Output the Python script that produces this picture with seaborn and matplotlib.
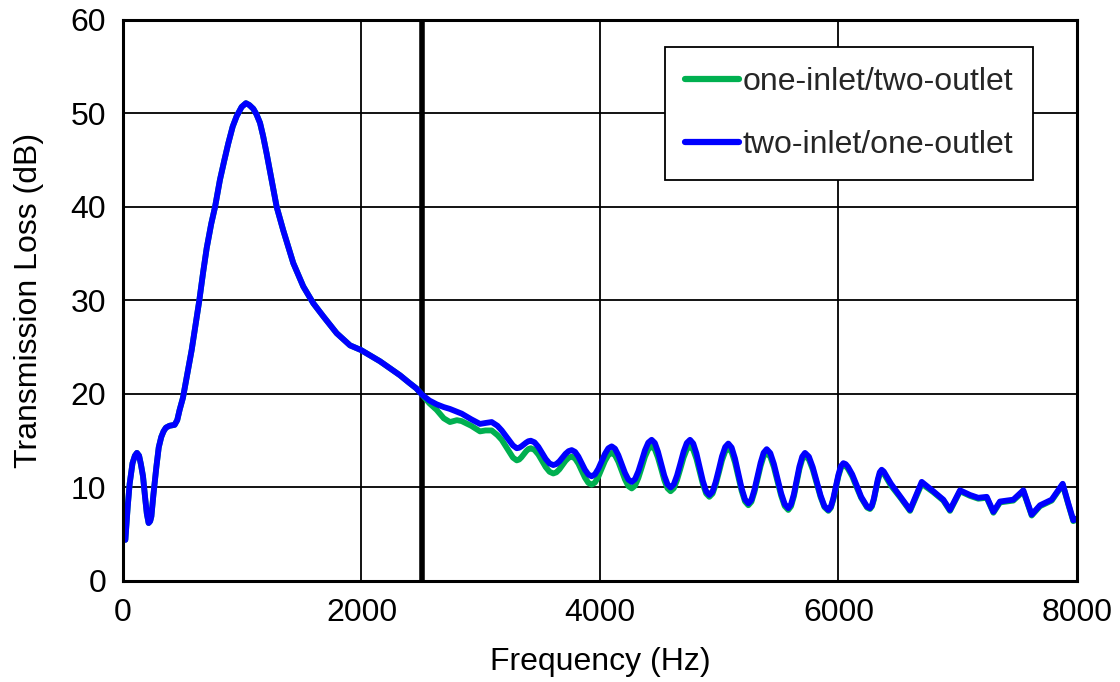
import matplotlib
matplotlib.use("Agg")
import matplotlib.pyplot as plt
import seaborn as sns
import pandas as pd

# Frequency grid (Hz) shared by both configurations
freq_hz = [
    20, 40, 56, 80, 100, 117, 135, 150, 168, 185, 200, 215, 228, 238, 255, 270, 280, 300,
    321, 340, 360, 390, 433, 455, 475, 503,
    576, 640, 672, 702, 740, 772, 813, 850, 883, 920, 953, 995, 1031, 1060, 1093, 1120, 1149, 1175,
    1205, 1245, 1289, 1344, 1428, 1512, 1596, 1680, 1792, 1904, 1996, 2155, 2323, 2400,
    2460, 2510,
    2570, 2630, 2690, 2742, 2800, 2840, 2920, 2994, 3040, 3092, 3140, 3176, 3240, 3270, 3302,
    3322, 3341, 3361, 3381, 3400, 3420,
    3451, 3483, 3514, 3545, 3577, 3608,
    3634, 3660, 3686, 3711, 3737, 3763,
    3791, 3819, 3847, 3874, 3902, 3930,
    3958, 3986, 4014, 4042, 4070, 4098,
    4126, 4154, 4182, 4210, 4238, 4266,
    4294, 4322, 4350, 4377, 4405, 4433,
    4460, 4486, 4513, 4539, 4566, 4592,
    4619, 4646, 4674, 4701, 4728, 4755,
    4782, 4809, 4836, 4863, 4890, 4917,
    4944, 4970, 4997, 5023, 5050, 5076,
    5104, 5132, 5160, 5188, 5216, 5244,
    5270, 5295, 5321, 5347, 5372, 5398,
    5428, 5458, 5489, 5519, 5549, 5579,
    5602, 5626, 5649, 5672, 5696, 5719,
    5752, 5784, 5817, 5850, 5882, 5915,
    5936, 5957, 5978, 5999, 6020, 6041,
    6060, 6080, 6115, 6150, 6190, 6240, 6264,
    6280, 6297, 6313, 6330, 6346, 6362,
    6380, 6440, 6520, 6600,
    6698, 6795, 6879, 6935, 7019, 7103, 7172, 7243, 7299, 7354, 7466, 7550,
    7620, 7690, 7788, 7880, 7927, 7969, 8000,
]

# Transmission loss (dB), two-inlet/one-outlet
tl_two_inlet = [
    4.4, 8.0, 10.4, 12.6, 13.4, 13.7, 13.4, 12.5, 11.2, 9.0, 7.2, 6.2, 6.4, 6.9, 9.2, 11.0, 12.2, 14.3,
    15.4, 16.0, 16.4, 16.6, 16.7, 17.2, 18.3, 19.6,
    24.7, 30.0, 33.0, 35.6, 38.2, 40.0, 42.9, 45.0, 46.8, 48.6, 49.7, 50.7, 51.1, 50.9, 50.5, 49.9, 49.0, 47.6,
    45.7, 43.0, 40.0, 37.5, 34.0, 31.5, 29.7, 28.3, 26.5, 25.2, 24.7, 23.5, 22.0, 21.2,
    20.6, 19.9,
    19.3, 18.9, 18.6, 18.4, 18.1, 17.9, 17.3, 16.8, 16.9, 17.0, 16.6, 16.1, 15.0, 14.5, 14.2,
    14.25, 14.4, 14.6, 14.8, 14.95, 15.0,
    14.83, 14.35, 13.7, 13.05, 12.57, 12.4,
    12.51, 12.8, 13.2, 13.6, 13.89, 14.0,
    13.81, 13.3, 12.6, 11.9, 11.39, 11.2,
    11.41, 12.0, 12.8, 13.6, 14.19, 14.4,
    14.15, 13.45, 12.5, 11.55, 10.85, 10.6,
    10.9, 11.73, 12.85, 13.98, 14.8, 15.1,
    14.76, 13.83, 12.55, 11.28, 10.34, 10.0,
    10.34, 11.28, 12.55, 13.83, 14.76, 15.1,
    14.7, 13.63, 12.15, 10.68, 9.6, 9.2,
    9.57, 10.58, 11.95, 13.33, 14.33, 14.7,
    14.27, 13.1, 11.5, 9.9, 8.73, 8.3,
    8.69, 9.75, 11.2, 12.65, 13.71, 14.1,
    13.68, 12.53, 10.95, 9.38, 8.22, 7.8,
    8.2, 9.28, 10.75, 12.23, 13.3, 13.7,
    13.29, 12.18, 10.65, 9.13, 8.01, 7.6,
    7.94, 8.85, 10.1, 11.35, 12.27, 12.6,
    12.5, 12.2, 11.4, 10.3, 9.0, 7.95, 7.8,
    8.07, 8.83, 9.85, 10.88, 11.63, 11.9,
    11.7, 10.4, 9.0, 7.6,
    10.6, 9.6, 8.7, 7.6, 9.7, 9.2, 8.9, 9.0, 7.4, 8.5, 8.7, 9.7,
    7.1, 8.1, 8.7, 10.4, 8.3, 6.5, 6.7,
]

# Transmission loss (dB), one-inlet/two-outlet
tl_one_inlet = [
    4.4, 8.0, 10.4, 12.6, 13.4, 13.7, 13.4, 12.5, 11.2, 9.0, 7.2, 6.2, 6.4, 6.9, 9.2, 11.0, 12.2, 14.3,
    15.4, 16.0, 16.4, 16.6, 16.7, 17.2, 18.3, 19.6,
    24.7, 30.0, 33.0, 35.6, 38.2, 40.0, 42.9, 45.0, 46.8, 48.6, 49.7, 50.7, 51.1, 50.9, 50.5, 49.9, 49.0, 47.6,
    45.7, 43.0, 40.0, 37.5, 34.0, 31.5, 29.7, 28.3, 26.5, 25.2, 24.7, 23.5, 22.0, 21.2,
    20.6, 19.9,
    19.0, 18.3, 17.4, 17.0, 17.2, 17.1, 16.6, 16.0, 16.1, 16.1, 15.6, 15.1, 13.8, 13.2, 12.9,
    12.99, 13.23, 13.55, 13.88, 14.11, 14.2,
    14.02, 13.53, 12.85, 12.18, 11.68, 11.5,
    11.62, 11.95, 12.4, 12.85, 13.18, 13.3,
    13.1, 12.55, 11.8, 11.05, 10.5, 10.3,
    10.53, 11.15, 12.0, 12.85, 13.47, 13.7,
    13.45, 12.75, 11.8, 10.85, 10.15, 9.9,
    10.2, 11.03, 12.15, 13.28, 14.1, 14.4,
    14.08, 13.2, 12.0, 10.8, 9.92, 9.6,
    9.92, 10.8, 12.0, 13.2, 14.08, 14.4,
    14.04, 13.05, 11.7, 10.35, 9.36, 9.0,
    9.35, 10.3, 11.6, 12.9, 13.85, 14.2,
    13.79, 12.68, 11.15, 9.63, 8.51, 8.1,
    8.48, 9.5, 10.9, 12.3, 13.32, 13.7,
    13.29, 12.18, 10.65, 9.13, 8.01, 7.6,
    7.99, 9.05, 10.5, 11.95, 13.01, 13.4,
    13.0, 11.93, 10.45, 8.98, 7.9, 7.5,
    7.83, 8.73, 9.95, 11.18, 12.07, 12.4,
    12.3, 12.0, 11.2, 10.1, 8.9, 7.85, 7.7,
    7.97, 8.7, 9.7, 10.7, 11.43, 11.7,
    11.5, 10.2, 8.9, 7.5,
    10.4, 9.5, 8.6, 7.5, 9.6, 9.1, 8.8, 8.9, 7.3, 8.4, 8.6, 9.6,
    7.0, 8.0, 8.6, 10.3, 8.2, 6.4, 6.6,
]

series_names = ["one-inlet/two-outlet", "two-inlet/one-outlet"]
series_colors = ["#00B050", "#0000FF"]
divider_hz = 2510

x_ticks = [0, 2000, 4000, 6000, 8000]
y_ticks = [0, 10, 20, 30, 40, 50, 60]

df = pd.concat([
    pd.DataFrame({"Frequency": freq_hz, "TL": tl_one_inlet, "Case": series_names[0]}),
    pd.DataFrame({"Frequency": freq_hz, "TL": tl_two_inlet, "Case": series_names[1]}),
])

sns.set_theme(style="white")
plt.rcParams["font.family"] = ["Liberation Sans", "DejaVu Sans"]

fig = plt.figure(figsize=(11.2, 6.82), dpi=100)
ax = fig.add_axes([0.1098, 0.1481, 0.8518, 0.8226])

sns.lineplot(data=df, x="Frequency", y="TL", hue="Case", hue_order=series_names,
             palette=series_colors, linewidth=4.2, sort=False, ax=ax,
             estimator=None, legend=True)
for ln in ax.get_lines():
    ln.set_solid_joinstyle("round")
    ln.set_solid_capstyle("round")

ax.set_xlim(0, 8000)
ax.set_ylim(0, 60)
ax.set_xticks(x_ticks)
ax.set_yticks(y_ticks)
ax.grid(True, color="black", linewidth=1.3)
ax.set_axisbelow(True)
ax.axvline(divider_hz, color="black", linewidth=4, zorder=1.5)

for side in ax.spines.values():
    side.set_color("black")
    side.set_linewidth(2.2)

ax.tick_params(axis="both", which="both", length=0, labelsize=23, colors="black")
ax.tick_params(axis="y", pad=12)
ax.tick_params(axis="x", pad=12)
ax.set_xlabel("Frequency (Hz)", fontsize=23, color="black", labelpad=14)
ax.set_ylabel("Transmission Loss (dB)", fontsize=23, color="black", labelpad=19)

leg = ax.legend(loc="upper right", bbox_to_anchor=(0.954, 0.952), fontsize=23,
                frameon=True, fancybox=False, edgecolor="black", framealpha=1,
                handlelength=1.7, handletextpad=0.1, labelspacing=1.05,
                borderpad=0.62, borderaxespad=0)
leg.get_frame().set_linewidth(1.3)
for line in leg.get_lines():
    line.set_linewidth(4.5)
    line.set_solid_capstyle("round")

fig.savefig("out.png", dpi=100)
